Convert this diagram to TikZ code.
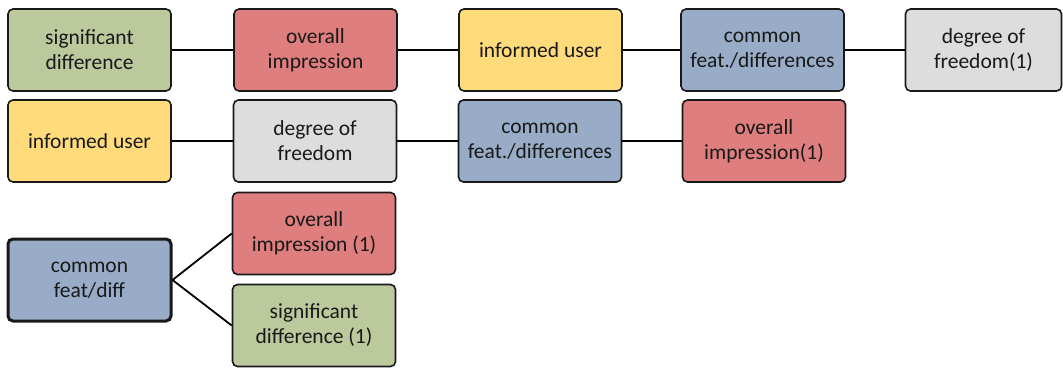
\documentclass[tikz,border=0pt]{standalone}
\usepackage{fontspec}
\setmainfont{Carlito}
\definecolor{cgreen}{RGB}{187,201,157}
\definecolor{cred}{RGB}{222,126,126}
\definecolor{cyellow}{RGB}{255,219,124}
\definecolor{cblue}{RGB}{152,172,199}
\definecolor{cgrey}{RGB}{221,221,221}
\definecolor{cedge}{RGB}{25,25,25}
\begin{document}
\begin{tikzpicture}[x=1pt,y=-1pt,
  box/.style={draw=cedge, line width=1.6pt, rounded corners=5pt,
    minimum width=163pt, minimum height=82pt, align=center,
    font=\fontsize{21.5}{25}\selectfont, text=black!90},
  link/.style={line width=1.8pt, draw=black}]
\useasboundingbox (0,0) rectangle (1063,367);
% first row
\node[box, fill=cgreen]  (a1) at (89.5,50) {significant\\difference};
\node[box, fill=cred]    (a2) at (315.5,50) {overall\\impression};
\node[box, fill=cyellow] (a3) at (540.5,50) {informed user};
\node[box, fill=cblue]   (a4) at (762.5,50) {common\\feat./differences};
\node[box, fill=cgrey, minimum width=156pt] (a5) at (983.5,50) {degree of\\freedom(1)};
% second row
\node[box, fill=cyellow] (b1) at (89.5,141) {informed user};
\node[box, fill=cgrey]   (b2) at (315,141) {degree of\\freedom};
\node[box, fill=cblue]   (b3) at (540,141) {common\\feat./differences};
\node[box, fill=cred]    (b4) at (764,141) {overall\\impression(1)};
% branching group
\node[box, fill=cblue, line width=3pt] (c1) at (89.5,280) {common\\feat/diff};
\node[box, fill=cred]    (c2) at (314,233.5) {overall\\impression (1)};
\node[box, fill=cgreen]  (c3) at (314,325.5) {significant\\difference (1)};
% connectors
\draw[link] (a1) -- (a2);
\draw[link] (a2) -- (a3);
\draw[link] (a3) -- (a4);
\draw[link] (a4) -- (a5);
\draw[link] (b1) -- (b2);
\draw[link] (b2) -- (b3);
\draw[link] (b3) -- (b4);
\draw[link] (c1.east) -- (c2.west);
\draw[link] (c1.east) -- (c3.west);
\end{tikzpicture}
\end{document}
